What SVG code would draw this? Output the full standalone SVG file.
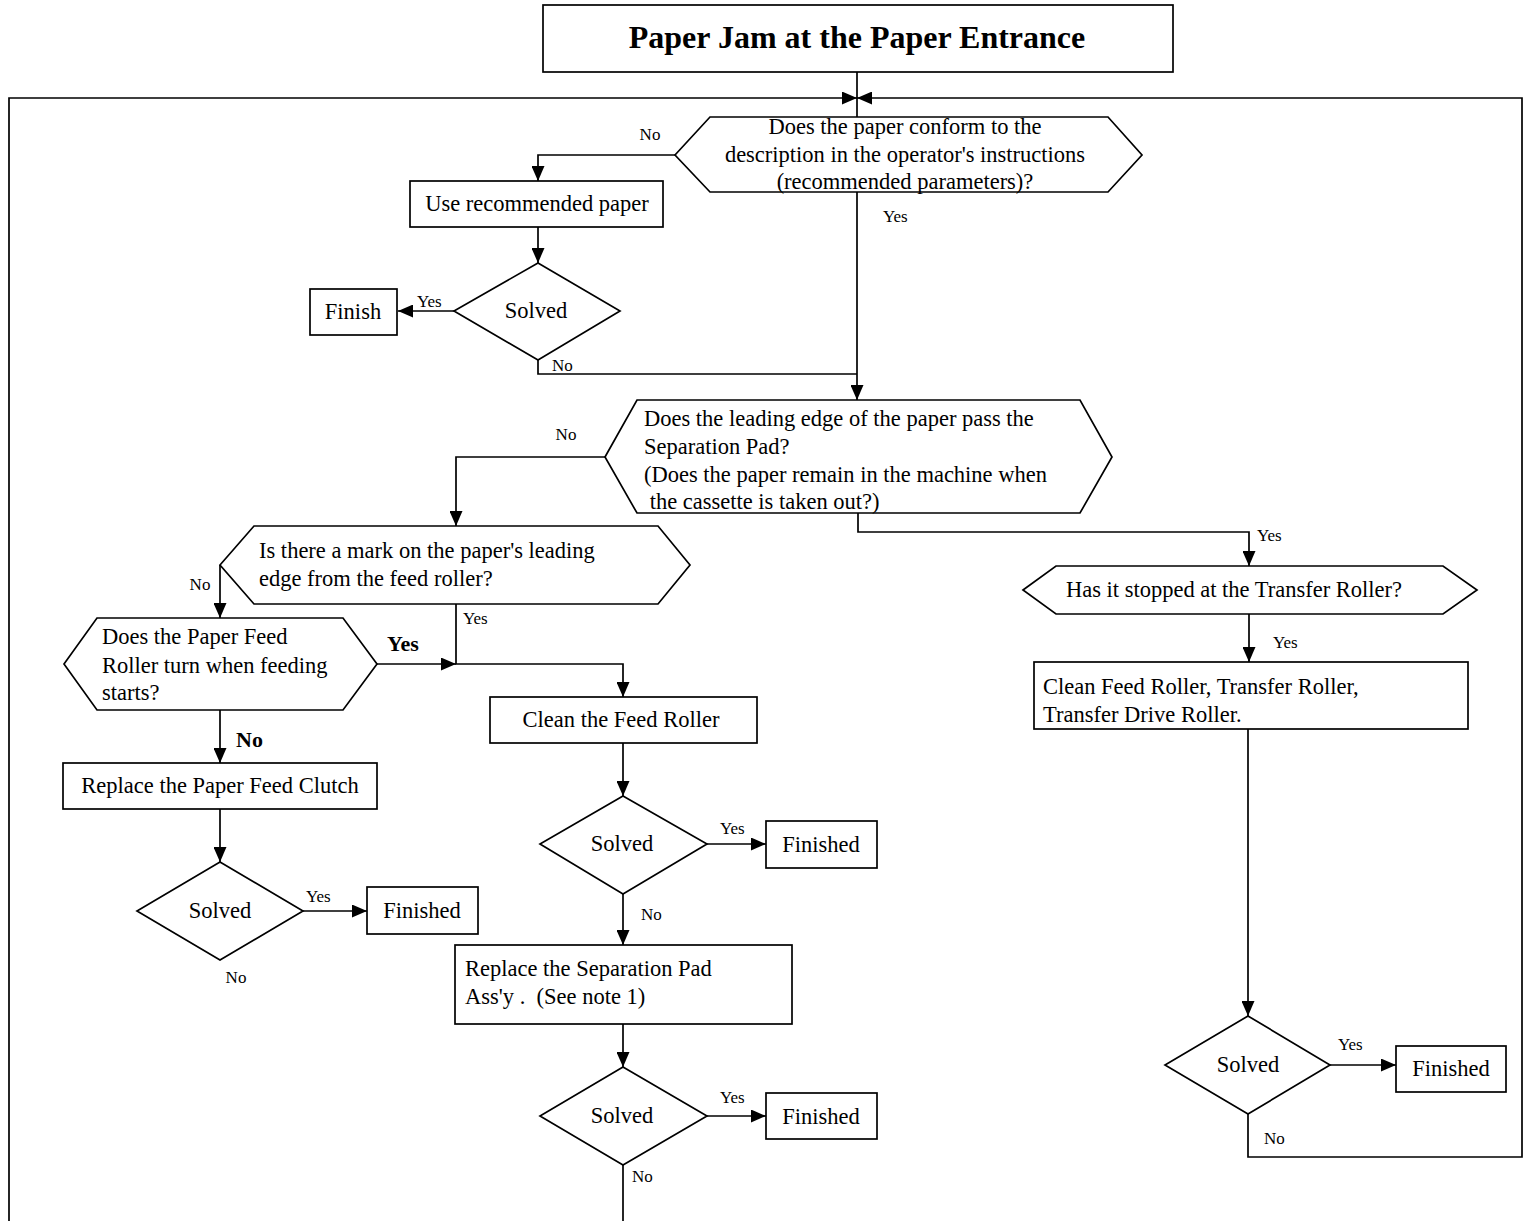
<svg xmlns="http://www.w3.org/2000/svg" width="1527" height="1221" viewBox="0 0 1527 1221">
<defs>
<style>
.s{fill:#fff;stroke:#000;stroke-width:1.7}
.c{fill:none;stroke:#000;stroke-width:1.7}
.t{font-family:"Liberation Serif","Times New Roman",serif;font-size:22.5px;fill:#000}
.m{text-anchor:middle}
.l{font-family:"Liberation Serif","Times New Roman",serif;font-size:17px;fill:#000}
.b{font-family:"Liberation Serif","Times New Roman",serif;font-size:22px;font-weight:bold;fill:#000}
.h{font-family:"Liberation Serif","Times New Roman",serif;font-size:32px;font-weight:bold;fill:#000;text-anchor:middle}
</style>
<marker id="a" viewBox="0 0 15 13" refX="15" refY="6.5" markerWidth="15" markerHeight="13" markerUnits="userSpaceOnUse" orient="auto">
<path d="M0,0 L15,6.5 L0,13 z" fill="#000"/>
</marker>
</defs>
<rect width="1527" height="1221" fill="#fff"/>

<g id="connectors">
<path class="c" d="M857,72 V117"/>
<path class="c" d="M9,1221 V98 H857" marker-end="url(#a)"/>
<path class="c" d="M1248,1114 V1157 H1522 V98 H857" marker-end="url(#a)"/>
<path class="c" d="M675,155 H538 V181" marker-end="url(#a)"/>
<path class="c" d="M538,227 V263" marker-end="url(#a)"/>
<path class="c" d="M454,311 H398" marker-end="url(#a)"/>
<path class="c" d="M538,360 V374 H857"/>
<path class="c" d="M857,192 V400" marker-end="url(#a)"/>
<path class="c" d="M605,457 H456 V526" marker-end="url(#a)"/>
<path class="c" d="M858,513 V532 H1249 V566" marker-end="url(#a)"/>
<path class="c" d="M1249,614 V662" marker-end="url(#a)"/>
<path class="c" d="M1248,729 V1016" marker-end="url(#a)"/>
<path class="c" d="M1330,1065 H1396" marker-end="url(#a)"/>
<path class="c" d="M220,565 V618" marker-end="url(#a)"/>
<path class="c" d="M456,604 V664 H623 V697" marker-end="url(#a)"/>
<path class="c" d="M377,664 H456" marker-end="url(#a)"/>
<path class="c" d="M220,710 V763" marker-end="url(#a)"/>
<path class="c" d="M220,809 V862" marker-end="url(#a)"/>
<path class="c" d="M303,911 H367" marker-end="url(#a)"/>
<path class="c" d="M623,743 V796" marker-end="url(#a)"/>
<path class="c" d="M707,844 H766" marker-end="url(#a)"/>
<path class="c" d="M623,894 V945" marker-end="url(#a)"/>
<path class="c" d="M623,1024 V1067" marker-end="url(#a)"/>
<path class="c" d="M707,1116 H766" marker-end="url(#a)"/>
<path class="c" d="M623,1165 V1221"/>
<text class="l m" x="650" y="140">No</text>
<text class="l" x="417" y="307">Yes</text>
<text class="l" x="552" y="371">No</text>
<text class="l" x="883" y="222">Yes</text>
<text class="l m" x="566" y="440">No</text>
<text class="l" x="1257" y="541">Yes</text>
<text class="l" x="1273" y="648">Yes</text>
<text class="l" x="1338" y="1050">Yes</text>
<text class="l" x="1264" y="1144">No</text>
<text class="l m" x="200" y="590">No</text>
<text class="l" x="463" y="624">Yes</text>
<text class="b" x="387" y="651">Yes</text>
<text class="b" x="236" y="747">No</text>
<text class="l" x="306" y="902">Yes</text>
<text class="l m" x="236" y="983">No</text>
<text class="l" x="720" y="834">Yes</text>
<text class="l" x="641" y="920">No</text>
<text class="l" x="720" y="1103">Yes</text>
<text class="l" x="632" y="1182">No</text>
</g>

<g id="title">
<rect class="s" x="543" y="5" width="630" height="67"/>
<text class="h" x="857" y="48">Paper Jam at the Paper Entrance</text>
</g>

<g id="q-paper-conform">
<polygon class="s" points="675,155 710,117 1108,117 1142,155 1108,192 710,192"/>
<text class="t m" x="905" y="134">Does the paper conform to the</text>
<text class="t m" x="905" y="162">description in the operator's instructions</text>
<text class="t m" x="905" y="189">(recommended parameters)?</text>
</g>

<g id="use-paper">
<rect class="s" x="410" y="181" width="253" height="46"/>
<text class="t m" x="537" y="211">Use recommended paper</text>
</g>

<g id="solved-1">
<polygon class="s" points="538,263 620,311 538,360 454,311"/>
<text class="t m" x="536" y="318">Solved</text>
</g>

<g id="finish-1">
<rect class="s" x="310" y="289" width="87" height="46"/>
<text class="t m" x="353" y="319">Finish</text>
</g>

<g id="q-separation-pad">
<polygon class="s" points="605,457 637,400 1080,400 1112,457 1080,513 637,513"/>
<text class="t" x="644" y="426">Does the leading edge of the paper pass the</text>
<text class="t" x="644" y="454">Separation Pad?</text>
<text class="t" x="644" y="482">(Does the paper remain in the machine when</text>
<text class="t" x="644" y="509" xml:space="preserve"> the cassette is taken out?)</text>
</g>

<g id="q-mark">
<polygon class="s" points="220,565 254,526 658,526 690,565 658,604 254,604"/>
<text class="t" x="259" y="558">Is there a mark on the paper's leading</text>
<text class="t" x="259" y="586">edge from the feed roller?</text>
</g>

<g id="q-feed-roller-turn">
<polygon class="s" points="64,664 97,618 343,618 377,664 343,710 97,710"/>
<text class="t" x="102" y="644">Does the Paper Feed</text>
<text class="t" x="102" y="673">Roller turn when feeding</text>
<text class="t" x="102" y="700">starts?</text>
</g>

<g id="replace-clutch">
<rect class="s" x="63" y="763" width="314" height="46"/>
<text class="t m" x="220" y="793">Replace the Paper Feed Clutch</text>
</g>

<g id="solved-2">
<polygon class="s" points="220,862 303,911 220,960 137,911"/>
<text class="t m" x="220" y="918">Solved</text>
</g>

<g id="finished-2">
<rect class="s" x="367" y="887" width="111" height="47"/>
<text class="t m" x="422" y="918">Finished</text>
</g>

<g id="clean-feed-roller">
<rect class="s" x="490" y="697" width="267" height="46"/>
<text class="t m" x="621" y="727">Clean the Feed Roller</text>
</g>

<g id="solved-3">
<polygon class="s" points="623,796 707,844 623,894 540,844"/>
<text class="t m" x="622" y="851">Solved</text>
</g>

<g id="finished-3">
<rect class="s" x="766" y="821" width="111" height="47"/>
<text class="t m" x="821" y="852">Finished</text>
</g>

<g id="replace-pad">
<rect class="s" x="455" y="945" width="337" height="79"/>
<text class="t" x="465" y="976">Replace the Separation Pad</text>
<text class="t" x="465" y="1004" xml:space="preserve">Ass'y .  (See note 1)</text>
</g>

<g id="solved-4">
<polygon class="s" points="623,1067 707,1116 623,1165 540,1116"/>
<text class="t m" x="622" y="1123">Solved</text>
</g>

<g id="finished-4">
<rect class="s" x="766" y="1093" width="111" height="46"/>
<text class="t m" x="821" y="1124">Finished</text>
</g>

<g id="q-transfer-roller">
<polygon class="s" points="1023,590 1056,566 1443,566 1477,590 1443,614 1056,614"/>
<text class="t m" x="1234" y="597">Has it stopped at the Transfer Roller?</text>
</g>

<g id="clean-transfer">
<rect class="s" x="1034" y="662" width="434" height="67"/>
<text class="t" x="1043" y="694">Clean Feed Roller, Transfer Roller,</text>
<text class="t" x="1043" y="722">Transfer Drive Roller.</text>
</g>

<g id="solved-5">
<polygon class="s" points="1248,1016 1330,1065 1248,1114 1165,1065"/>
<text class="t m" x="1248" y="1072">Solved</text>
</g>

<g id="finished-5">
<rect class="s" x="1396" y="1046" width="110" height="46"/>
<text class="t m" x="1451" y="1076">Finished</text>
</g>
</svg>
